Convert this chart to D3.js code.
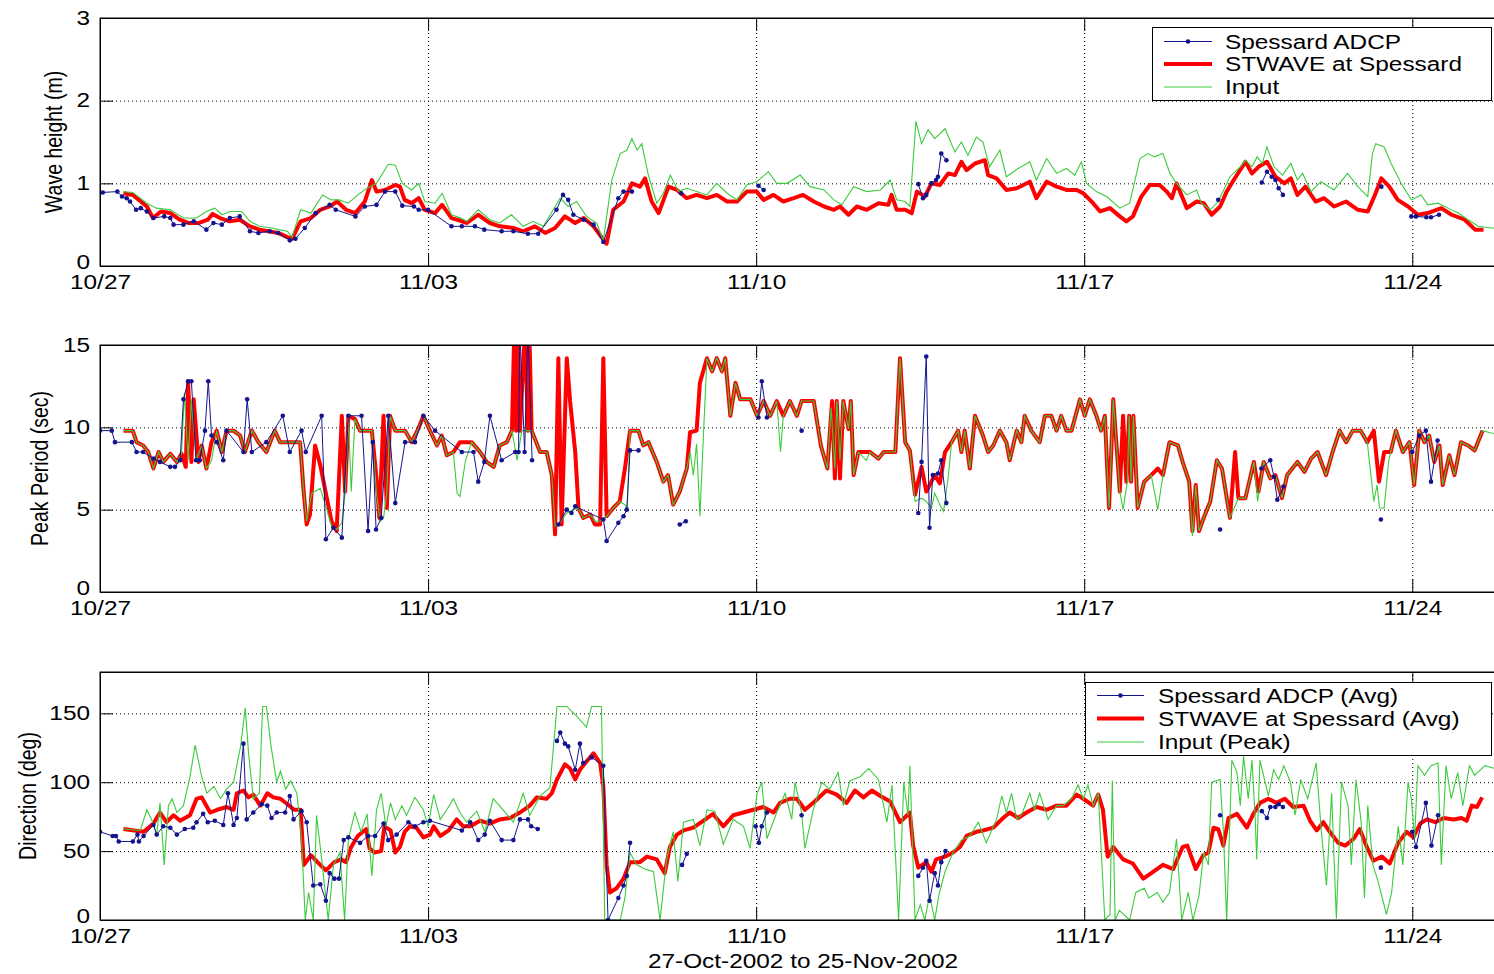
<!DOCTYPE html>
<html>
<head>
<meta charset="utf-8">
<script src="https://cdn.jsdelivr.net/npm/d3@7"></script>
<style>
  body { margin: 0; background: #fff; }
  svg { display: block; }
  text { font-family: Arial, "Liberation Sans", sans-serif; fill: #000; }
</style>
</head>
<body>
<svg id="chart" width="1494" height="974"></svg>
<script>
// ---- time axis (days since 27-Oct-2002 00:00) ----
const tickDays = [0, 7, 14, 21, 28];
const tickLabels = ["10/27", "11/03", "11/10", "11/17", "11/24"];
const xLabel = "27-Oct-2002 to 25-Nov-2002";

// ---- wave height (m): [day, value]; null marks a gap in the record ----
const hsAdcp = [[0.06,0.89],[0.37,0.90],[0.47,0.84],[0.57,0.82],[0.64,0.78],[0.77,0.68],[0.87,0.70],[1.0,0.66],[1.14,0.58],[1.37,0.60],[1.5,0.58],[1.57,0.50],[1.78,0.50],[2.0,0.54],[2.27,0.44],[2.42,0.52],[2.6,0.50],[2.77,0.58],[2.98,0.60],[3.2,0.42],[3.38,0.40],[3.62,0.42],[3.8,0.40],[4.05,0.31],[4.17,0.33],[4.37,0.46],[4.6,0.64],[4.9,0.74],[5.03,0.68],[5.45,0.60],[5.65,0.72],[5.9,0.74],[6.08,0.90],[6.3,0.90],[6.45,0.73],[6.7,0.72],[6.8,0.68],[7.0,0.68],[7.5,0.48],[7.72,0.48],[8.0,0.48],[8.2,0.44],[8.57,0.42],[8.82,0.42],[9.13,0.39],[9.35,0.39],[9.74,0.68],[9.88,0.86],[9.99,0.80],[10.1,0.62],[10.32,0.56],[10.53,0.50],[10.74,0.29],[11.06,0.82],[11.17,0.90],[11.35,0.90],[11.8,null],[12.4,0.88],[12.6,null],[14.05,0.97],[14.16,0.92],[14.3,null],[17.46,0.99],[17.56,0.82],[17.63,0.86],[17.74,1.0],[17.84,1.04],[17.88,1.08],[17.95,1.36],[18.06,1.28],[18.2,null],[23.86,0.80],[24.0,null],[24.79,1.01],[24.9,1.14],[25.0,1.08],[25.08,1.04],[25.15,0.94],[25.24,0.86],[25.5,null],[27.34,0.96],[27.5,null],[27.98,0.60],[28.08,0.60],[28.3,0.59],[28.4,0.59],[28.57,0.62]];

const hsModel = [[0.5,0.88],[0.7,0.86],[1.0,0.72],[1.13,0.58],[1.3,0.66],[1.5,0.64],[1.7,0.56],[1.9,0.52],[2.1,0.52],[2.3,0.56],[2.4,0.63],[2.56,0.58],[2.77,0.54],[2.98,0.56],[3.2,0.48],[3.4,0.44],[3.6,0.42],[3.8,0.40],[4.0,0.35],[4.1,0.33],[4.28,0.54],[4.5,0.58],[4.7,0.68],[4.9,0.72],[5.06,0.78],[5.25,0.68],[5.45,0.64],[5.65,0.78],[5.8,1.04],[5.9,0.90],[6.08,0.92],[6.3,0.98],[6.4,0.96],[6.5,0.80],[6.65,0.76],[6.8,0.82],[6.93,0.68],[7.15,0.64],[7.3,0.74],[7.5,0.58],[7.68,0.55],[7.83,0.52],[8.07,0.62],[8.32,0.52],[8.53,0.48],[8.82,0.46],[9.03,0.42],[9.28,0.48],[9.5,0.40],[9.71,0.46],[9.92,0.60],[10.14,0.52],[10.32,0.58],[10.53,0.48],[10.7,0.35],[10.81,0.27],[10.95,0.68],[11.17,0.78],[11.35,1.0],[11.52,0.96],[11.63,1.06],[11.77,0.78],[11.92,0.64],[12.13,0.96],[12.31,0.92],[12.52,0.82],[12.73,0.86],[12.95,0.82],[13.16,0.86],[13.38,0.78],[13.59,0.78],[13.8,0.90],[14.01,0.90],[14.16,0.80],[14.37,0.86],[14.58,0.78],[14.8,0.82],[15.0,0.86],[15.23,0.78],[15.45,0.72],[15.66,0.68],[15.79,0.72],[15.97,0.62],[16.15,0.72],[16.36,0.68],[16.61,0.76],[16.82,0.74],[16.89,0.86],[17.0,0.68],[17.18,0.68],[17.32,0.64],[17.43,0.90],[17.6,0.84],[17.74,1.0],[17.92,0.98],[18.1,1.12],[18.24,1.10],[18.38,1.26],[18.49,1.16],[18.67,1.24],[18.88,1.28],[18.95,1.10],[19.13,1.06],[19.34,0.92],[19.56,0.94],[19.84,1.02],[19.98,0.82],[20.2,1.02],[20.41,0.96],[20.62,0.92],[20.84,0.92],[20.98,0.88],[21.19,0.76],[21.34,0.66],[21.55,0.70],[21.76,0.60],[21.9,0.54],[22.04,0.60],[22.22,0.84],[22.4,0.98],[22.61,0.98],[22.76,0.90],[22.87,0.82],[22.97,1.0],[23.19,0.70],[23.4,0.78],[23.55,0.76],[23.72,0.62],[23.9,0.72],[24.04,0.90],[24.19,1.04],[24.44,1.26],[24.58,1.12],[24.72,1.20],[24.9,1.26],[25.08,1.08],[25.27,1.0],[25.41,1.06],[25.55,0.86],[25.72,0.96],[25.94,0.78],[26.12,0.82],[26.33,0.72],[26.59,0.78],[26.84,0.68],[27.05,0.66],[27.19,0.84],[27.34,1.06],[27.51,0.96],[27.69,0.80],[27.91,0.72],[28.12,0.62],[28.33,0.64],[28.62,0.70],[28.84,0.62],[29.12,0.56],[29.34,0.44],[29.52,0.44]];

const hsInput = [[0.5,0.90],[0.7,0.89],[1.0,0.76],[1.2,0.70],[1.5,0.68],[1.78,0.58],[2.06,0.58],[2.27,0.66],[2.45,0.70],[2.6,0.62],[2.77,0.66],[3.02,0.66],[3.2,0.54],[3.4,0.48],[3.68,0.46],[3.8,0.44],[4.0,0.42],[4.1,0.35],[4.28,0.68],[4.5,0.64],[4.75,0.86],[4.93,0.80],[5.1,0.80],[5.3,0.76],[5.5,0.86],[5.7,0.94],[5.9,1.0],[6.15,1.23],[6.3,1.22],[6.45,1.0],[6.65,0.92],[6.8,1.0],[6.93,0.78],[7.15,0.76],[7.3,0.88],[7.5,0.62],[7.7,0.58],[7.83,0.54],[8.07,0.68],[8.32,0.56],[8.53,0.52],[8.78,0.62],[9.03,0.48],[9.24,0.54],[9.46,0.48],[9.67,0.68],[9.82,0.82],[9.99,0.72],[10.17,0.78],[10.38,0.60],[10.6,0.52],[10.74,0.31],[10.92,1.04],[11.1,1.36],[11.24,1.40],[11.35,1.54],[11.46,1.40],[11.56,1.48],[11.7,1.10],[11.88,0.76],[12.02,0.88],[12.17,1.10],[12.34,0.90],[12.52,0.94],[12.73,0.90],[12.95,0.86],[13.16,1.0],[13.38,0.88],[13.59,0.80],[13.8,0.98],[14.01,1.02],[14.26,1.14],[14.44,1.0],[14.66,1.0],[14.94,1.10],[15.15,0.96],[15.45,0.92],[15.66,0.80],[15.83,0.74],[16.08,0.96],[16.36,0.90],[16.65,0.92],[16.86,1.04],[17.0,0.80],[17.18,0.78],[17.28,0.72],[17.41,1.75],[17.53,1.48],[17.67,1.65],[17.81,1.54],[18.03,1.66],[18.24,1.38],[18.38,1.50],[18.52,1.34],[18.7,1.56],[18.84,1.50],[18.98,1.20],[19.2,1.40],[19.34,1.08],[19.59,1.18],[19.84,1.26],[19.98,1.04],[20.2,1.30],[20.41,1.12],[20.62,1.18],[20.8,1.10],[20.94,1.26],[21.05,1.0],[21.26,0.90],[21.48,0.84],[21.76,0.70],[21.97,0.76],[22.19,1.30],[22.36,1.36],[22.5,1.32],[22.68,1.36],[22.83,1.12],[22.97,1.0],[23.19,0.86],[23.4,0.92],[23.5,0.76],[23.69,0.68],[23.86,0.78],[24.11,1.08],[24.33,1.20],[24.44,1.28],[24.58,1.20],[24.69,1.32],[24.8,1.24],[24.9,1.44],[25.05,1.20],[25.23,1.10],[25.41,1.24],[25.55,1.04],[25.66,1.12],[25.84,0.90],[26.05,1.02],[26.33,0.92],[26.62,1.12],[26.84,0.96],[27.05,0.84],[27.15,1.36],[27.22,1.48],[27.4,1.44],[27.55,1.24],[27.76,1.0],[27.98,0.80],[28.19,0.86],[28.33,0.74],[28.55,0.76],[28.76,0.70],[28.98,0.64],[29.19,0.56],[29.41,0.48],[29.69,0.46],[30.0,0.46]];

// ---- peak period (sec) ----
const tpAdcp = [[0.0,9.8],[0.25,9.8],[0.32,9.1],[0.68,9.1],[0.78,8.5],[0.92,8.5],[1.14,8.1],[1.28,7.9],[1.5,7.6],[1.6,7.6],[1.71,8.0],[1.78,11.7],[1.88,12.8],[1.95,12.8],[2.05,8.0],[2.13,8.0],[2.24,9.8],[2.31,12.8],[2.38,9.5],[2.49,9.1],[2.63,8.0],[2.7,9.8],[3.06,8.5],[3.14,11.7],[3.24,8.5],[3.55,9.1],[3.9,10.7],[4.05,8.5],[4.3,9.8],[4.39,8.5],[4.73,10.7],[4.82,3.2],[4.98,3.9],[5.16,3.3],[5.3,10.7],[5.58,10.7],[5.72,3.7],[5.82,9.1],[5.89,3.8],[6.0,4.5],[6.15,10.7],[6.3,5.4],[6.51,9.1],[6.72,9.1],[6.9,10.7],[7.15,9.8],[7.72,8.5],[7.97,8.5],[8.07,6.7],[8.2,7.9],[8.32,10.7],[8.57,8.0],[8.86,8.5],[8.93,8.5],[8.96,16],[9.06,8.5],[9.13,16],[9.22,8.0],[9.5,null],[9.78,4.1],[9.96,5.0],[10.06,4.8],[10.14,5.2],[10.74,4.4],[10.81,3.1],[11.06,4.2],[11.17,4.6],[11.24,5.0],[11.31,8.6],[11.49,8.6],[11.8,null],[12.37,4.1],[12.5,4.3],[12.8,null],[14.05,10.6],[14.12,12.8],[14.23,10.6],[14.5,null],[14.97,9.8],[15.2,null],[17.46,4.8],[17.53,7.9],[17.63,14.3],[17.7,3.9],[17.77,7.1],[17.88,7.2],[17.95,8.0],[18.06,5.4],[18.3,null],[23.9,3.8],[24.1,null],[24.78,7.5],[24.97,8.0],[25.05,7.0],[25.12,5.6],[25.25,6.4],[25.5,null],[27.33,4.4],[27.6,null],[28.0,8.5],[28.15,9.5],[28.29,9.8],[28.4,6.7],[28.54,9.2]];

const tpModel = [[0.5,9.8],[0.7,9.8],[0.78,9.1],[0.92,8.9],[1.03,8.5],[1.14,7.5],[1.25,8.5],[1.35,7.9],[1.5,8.4],[1.64,7.9],[1.74,8.4],[1.83,7.6],[1.88,12.8],[1.95,7.9],[2.0,11.7],[2.1,7.9],[2.17,8.9],[2.27,7.5],[2.38,9.1],[2.49,9.8],[2.6,8.5],[2.7,9.8],[2.85,9.8],[2.99,9.5],[3.09,8.5],[3.24,9.8],[3.38,9.1],[3.55,8.5],[3.73,9.8],[3.84,9.1],[4.05,9.1],[4.27,9.1],[4.34,6.3],[4.41,4.1],[4.48,4.7],[4.59,8.9],[4.7,7.7],[4.84,5.7],[4.94,4.3],[5.05,3.7],[5.16,10.7],[5.23,6.1],[5.3,10.7],[5.44,10.5],[5.55,9.8],[5.69,9.8],[5.8,9.8],[5.9,6.9],[5.96,4.5],[6.05,10.7],[6.12,5.1],[6.19,10.7],[6.3,9.8],[6.4,9.8],[6.51,9.8],[6.65,9.1],[6.79,9.9],[6.9,10.7],[7.04,9.8],[7.19,8.9],[7.29,9.5],[7.4,8.3],[7.54,8.5],[7.68,9.1],[7.93,9.1],[8.11,8.5],[8.25,7.9],[8.4,7.6],[8.53,8.9],[8.68,9.1],[8.79,9.8],[8.84,16],[8.88,9.8],[8.92,16],[8.96,9.8],[9.07,16],[9.13,9.8],[9.16,16],[9.21,9.8],[9.39,8.5],[9.53,8.5],[9.64,7.1],[9.71,3.5],[9.78,14.2],[9.85,4.1],[9.96,14.2],[10.03,11.6],[10.14,8.5],[10.21,5.1],[10.31,4.5],[10.46,4.7],[10.56,4.1],[10.67,4.1],[10.74,14.2],[10.81,4.6],[10.95,5.1],[11.09,5.5],[11.2,7.5],[11.31,9.8],[11.49,9.8],[11.59,8.9],[11.7,9.1],[11.88,7.9],[12.02,6.7],[12.12,7.1],[12.23,5.3],[12.37,6.1],[12.52,7.5],[12.59,9.7],[12.73,9.8],[12.8,12.7],[12.95,14.2],[13.06,13.4],[13.16,14.2],[13.27,13.4],[13.34,14.2],[13.45,10.7],[13.56,12.7],[13.66,11.7],[13.88,11.7],[14.02,10.7],[14.16,11.6],[14.3,10.7],[14.44,11.6],[14.58,10.7],[14.72,11.6],[14.87,10.7],[14.97,11.6],[15.23,11.6],[15.38,8.9],[15.52,7.5],[15.62,11.6],[15.68,6.9],[15.72,11.6],[15.79,6.9],[15.86,11.6],[15.97,9.9],[16.02,11.6],[16.08,7.1],[16.18,8.5],[16.43,8.5],[16.61,8.1],[16.72,8.5],[16.97,8.5],[17.07,14.2],[17.18,9.1],[17.28,8.6],[17.39,5.9],[17.53,7.6],[17.63,6.1],[17.74,6.7],[17.81,7.1],[17.92,6.6],[18.03,8.5],[18.17,9.1],[18.31,9.8],[18.38,8.5],[18.45,9.8],[18.56,7.5],[18.67,10.7],[18.84,9.5],[18.95,8.5],[19.06,8.9],[19.2,9.8],[19.34,9.1],[19.41,8.0],[19.56,9.8],[19.66,9.1],[19.73,10.7],[19.87,9.8],[20.05,9.1],[20.16,10.7],[20.3,10.7],[20.41,9.8],[20.51,10.7],[20.62,9.8],[20.73,9.8],[20.91,11.7],[21.01,10.7],[21.12,11.7],[21.26,10.7],[21.36,9.8],[21.44,10.7],[21.53,5.1],[21.62,11.7],[21.76,6.1],[21.83,10.7],[21.9,6.7],[21.96,10.7],[22.0,6.7],[22.05,10.7],[22.14,5.1],[22.28,6.7],[22.43,7.1],[22.57,7.5],[22.68,7.1],[22.82,9.1],[23.0,8.9],[23.1,7.9],[23.24,6.7],[23.31,3.7],[23.38,6.5],[23.45,3.7],[23.55,4.5],[23.69,5.5],[23.83,8.0],[23.94,7.5],[24.11,4.5],[24.22,8.5],[24.29,5.7],[24.44,5.7],[24.62,7.9],[24.72,6.1],[24.83,7.9],[24.97,6.9],[25.08,7.1],[25.22,5.7],[25.33,7.1],[25.44,7.5],[25.55,7.9],[25.7,7.3],[25.84,8.1],[25.98,8.5],[26.16,7.1],[26.3,8.5],[26.45,9.8],[26.59,9.1],[26.73,9.8],[26.9,9.8],[27.04,9.1],[27.18,9.8],[27.29,6.7],[27.4,8.5],[27.54,8.5],[27.65,9.8],[27.8,8.5],[27.94,9.1],[28.04,6.5],[28.15,9.8],[28.26,9.1],[28.36,9.5],[28.47,7.9],[28.58,8.9],[28.65,6.5],[28.79,8.3],[28.9,7.1],[29.04,9.1],[29.19,8.9],[29.33,8.6],[29.4,9.1],[29.5,9.8]];

const tpInput = [[0.5,9.8],[0.7,9.8],[0.78,9.1],[0.92,8.9],[1.03,8.5],[1.14,7.5],[1.25,8.5],[1.35,7.9],[1.5,8.4],[1.64,7.9],[1.74,8.4],[1.8,12.1],[1.88,8.0],[1.95,11.7],[2.05,8.0],[2.17,8.9],[2.27,7.5],[2.38,8.0],[2.49,9.8],[2.6,8.5],[2.7,9.8],[2.85,9.8],[2.99,9.5],[3.09,8.5],[3.24,9.8],[3.38,9.1],[3.55,8.5],[3.73,9.8],[3.84,9.1],[4.05,9.1],[4.27,9.1],[4.34,6.3],[4.41,4.3],[4.52,6.0],[4.7,6.3],[4.84,5.0],[4.94,4.0],[5.05,3.8],[5.16,4.2],[5.23,6.0],[5.3,10.7],[5.36,6.1],[5.44,10.5],[5.55,9.8],[5.69,9.8],[5.8,9.8],[5.9,6.0],[5.98,4.3],[6.05,4.5],[6.12,6.0],[6.19,10.7],[6.3,9.8],[6.4,9.8],[6.51,9.8],[6.65,9.1],[6.79,9.9],[6.9,10.7],[7.04,9.8],[7.19,8.9],[7.29,9.5],[7.4,8.3],[7.54,8.5],[7.62,6.0],[7.68,5.8],[7.8,8.0],[7.93,9.1],[8.11,8.5],[8.25,7.9],[8.4,7.6],[8.53,8.9],[8.68,9.1],[8.79,9.8],[8.9,8.0],[9.0,9.8],[9.13,9.8],[9.21,9.8],[9.39,8.5],[9.53,8.5],[9.64,7.1],[9.71,4.0],[9.8,4.2],[9.96,4.8],[10.1,5.0],[10.21,5.1],[10.31,4.5],[10.46,4.7],[10.56,4.3],[10.67,4.3],[10.81,4.6],[10.95,5.1],[11.09,5.5],[11.2,5.3],[11.25,5.1],[11.31,9.8],[11.49,9.8],[11.59,8.9],[11.7,9.1],[11.88,7.9],[12.02,6.7],[12.12,7.1],[12.23,5.3],[12.37,6.1],[12.52,7.5],[12.59,8.5],[12.66,7.1],[12.73,9.0],[12.8,4.6],[12.88,9.8],[12.95,14.2],[13.06,13.4],[13.16,14.2],[13.27,13.4],[13.34,14.2],[13.45,10.7],[13.56,12.7],[13.66,11.7],[13.88,11.7],[14.02,10.7],[14.16,11.6],[14.3,10.7],[14.44,11.6],[14.52,8.5],[14.58,10.7],[14.72,11.6],[14.87,10.7],[14.97,11.6],[15.23,11.6],[15.38,8.9],[15.52,7.5],[15.6,11.2],[15.68,7.5],[15.72,11.6],[15.79,8.0],[15.86,11.6],[15.97,9.9],[16.02,11.6],[16.08,7.1],[16.18,8.5],[16.35,8.0],[16.43,8.5],[16.61,8.1],[16.72,8.5],[16.97,8.5],[17.07,14.2],[17.18,9.1],[17.28,8.6],[17.39,5.5],[17.53,5.7],[17.63,5.5],[17.74,5.1],[17.81,6.0],[17.92,5.3],[18.0,4.9],[18.1,7.0],[18.17,9.1],[18.31,9.8],[18.38,8.5],[18.45,9.8],[18.56,7.5],[18.67,10.7],[18.84,9.5],[18.95,8.5],[19.06,8.9],[19.2,9.8],[19.34,9.1],[19.41,8.0],[19.56,9.8],[19.66,9.1],[19.73,10.7],[19.87,9.8],[20.05,9.1],[20.16,10.7],[20.3,10.7],[20.41,9.8],[20.51,10.7],[20.62,9.8],[20.73,9.8],[20.91,11.7],[21.01,10.7],[21.12,11.7],[21.26,10.7],[21.36,9.8],[21.44,10.7],[21.53,5.1],[21.62,11.7],[21.76,6.1],[21.83,5.0],[21.92,6.7],[21.96,10.7],[22.0,6.7],[22.05,10.7],[22.14,5.1],[22.28,6.7],[22.43,7.1],[22.57,5.0],[22.68,7.1],[22.82,9.1],[23.0,8.9],[23.1,7.9],[23.24,6.7],[23.31,3.4],[23.38,6.5],[23.45,3.7],[23.55,4.5],[23.69,5.5],[23.83,8.0],[23.94,7.5],[24.11,4.5],[24.2,5.1],[24.29,5.7],[24.44,5.7],[24.62,7.9],[24.7,5.5],[24.83,7.9],[24.97,6.9],[25.08,7.1],[25.22,5.7],[25.33,7.1],[25.44,7.5],[25.55,7.9],[25.7,7.3],[25.84,8.1],[25.98,8.5],[26.16,7.1],[26.3,8.5],[26.45,9.8],[26.59,9.1],[26.73,9.8],[26.9,9.8],[27.04,9.1],[27.18,5.5],[27.25,6.5],[27.3,5.1],[27.4,5.1],[27.5,8.0],[27.54,8.5],[27.65,9.8],[27.8,8.5],[27.94,9.1],[28.04,6.5],[28.15,9.8],[28.26,9.1],[28.36,9.5],[28.47,7.9],[28.58,8.9],[28.65,6.5],[28.79,8.3],[28.9,7.1],[29.04,9.1],[29.19,8.9],[29.33,8.6],[29.4,9.1],[29.5,9.8],[29.76,9.6],[30.0,9.6]];

// ---- direction (deg) ----
const dirAdcp = [[0.0,64],[0.27,61],[0.34,61],[0.4,57],[0.7,57],[0.8,62],[0.83,57],[0.93,61],[1.14,69],[1.21,62],[1.35,68],[1.5,67],[1.64,62],[1.81,66],[1.99,67],[2.06,71],[2.2,77],[2.3,71],[2.45,72],[2.63,69],[2.73,92],[2.85,69],[2.92,74],[3.06,128],[3.13,73],[3.27,78],[3.45,84],[3.57,83],[3.66,74],[3.77,78],[3.95,78],[4.05,90],[4.13,73],[4.3,79],[4.41,71],[4.55,25],[4.7,26],[4.82,14],[4.9,34],[5.0,30],[5.1,30],[5.2,58],[5.3,60],[5.55,56],[5.72,61],[5.87,61],[6.05,70],[6.15,58],[6.33,62],[6.58,71],[6.72,68],[6.9,71],[7.04,72],[7.72,65],[7.9,71],[8.07,58],[8.21,62],[8.32,72],[8.57,58],[8.82,58],[8.96,73],[9.13,73],[9.2,68],[9.34,66],[9.5,null],[9.75,130],[9.82,136],[9.92,128],[9.99,126],[10.14,109],[10.24,128],[10.31,114],[10.49,118],[10.74,112],[10.84,0],[11.06,16],[11.17,25],[11.24,32],[11.31,56],[11.6,null],[12.42,40],[12.52,48],[12.8,null],[13.99,68],[14.06,56],[14.12,68],[14.23,78],[14.5,null],[14.97,76],[15.2,null],[17.46,32],[17.56,38],[17.63,43],[17.7,14],[17.81,34],[17.88,25],[17.95,42],[18.04,50],[18.3,null],[23.9,76],[24.1,null],[24.79,79],[24.9,74],[24.97,82],[25.08,82],[25.15,84],[25.24,82],[25.5,null],[27.33,38],[27.6,null],[28.0,64],[28.08,53],[28.29,85],[28.41,54],[28.55,76]];

const dirModel = [[0.5,66],[0.73,65],[0.93,64],[1.14,70],[1.28,78],[1.42,71],[1.57,76],[1.71,72],[1.92,76],[2.06,88],[2.17,89],[2.35,78],[2.5,80],[2.7,82],[2.85,80],[2.92,92],[3.06,94],[3.17,89],[3.27,91],[3.42,83],[3.57,92],[3.7,89],[3.85,88],[4.0,84],[4.14,80],[4.28,80],[4.35,40],[4.5,47],[4.64,42],[4.82,36],[5.0,42],[5.14,44],[5.25,42],[5.36,53],[5.5,61],[5.68,66],[5.75,52],[5.85,49],[6.0,50],[6.07,68],[6.2,65],[6.3,49],[6.4,53],[6.5,64],[6.61,68],[6.75,67],[6.9,60],[7.04,62],[7.12,68],[7.26,61],[7.44,65],[7.61,73],[7.75,68],[7.9,68],[8.11,72],[8.32,70],[8.53,73],[8.75,74],[8.96,78],[9.17,83],[9.32,89],[9.53,88],[9.64,92],[9.75,102],[9.92,113],[10.03,110],[10.14,102],[10.24,109],[10.38,115],[10.53,121],[10.67,114],[10.74,97],[10.81,40],[10.88,20],[11.02,23],[11.17,30],[11.31,42],[11.52,42],[11.67,46],[11.88,44],[12.05,34],[12.16,53],[12.31,62],[12.45,65],[12.66,67],[12.87,72],[13.08,77],[13.3,68],[13.51,76],[13.73,78],[13.94,80],[14.15,82],[14.37,78],[14.51,85],[14.72,88],[14.87,88],[15.04,80],[15.25,86],[15.5,94],[15.72,91],[15.93,85],[16.11,94],[16.29,89],[16.47,94],[16.65,90],[16.86,86],[17.07,71],[17.28,78],[17.35,54],[17.46,38],[17.63,42],[17.74,35],[17.84,44],[18.03,46],[18.2,49],[18.35,53],[18.49,61],[18.7,64],[18.84,65],[19.06,67],[19.27,74],[19.41,78],[19.59,74],[19.77,78],[19.98,82],[20.2,80],[20.41,83],[20.62,83],[20.84,91],[20.98,88],[21.19,83],[21.3,91],[21.4,80],[21.5,46],[21.62,53],[21.83,44],[22.04,41],[22.26,30],[22.47,35],[22.68,40],[22.9,37],[23.1,53],[23.2,54],[23.38,37],[23.54,47],[23.65,49],[23.76,67],[23.86,66],[23.97,54],[24.08,74],[24.26,77],[24.47,67],[24.61,77],[24.75,85],[24.93,88],[25.1,85],[25.28,88],[25.46,82],[25.68,83],[25.82,72],[25.96,65],[26.1,71],[26.24,64],[26.42,56],[26.57,54],[26.75,59],[26.88,66],[27.03,53],[27.17,43],[27.35,46],[27.52,41],[27.7,56],[27.88,64],[28.02,60],[28.17,70],[28.31,73],[28.49,71],[28.67,74],[28.88,73],[29.05,74],[29.16,72],[29.27,83],[29.38,82],[29.49,89]];

const dirInput = [[0.5,66],[0.86,65],[1.0,80],[1.1,73],[1.21,62],[1.28,85],[1.37,40],[1.46,83],[1.54,88],[1.64,78],[1.78,83],[1.92,104],[2.03,127],[2.17,104],[2.28,92],[2.43,97],[2.57,88],[2.7,95],[2.85,100],[3.0,126],[3.1,154],[3.17,121],[3.27,88],[3.4,92],[3.47,155],[3.55,155],[3.65,126],[3.77,100],[3.85,108],[3.96,95],[4.07,101],[4.2,92],[4.3,59],[4.38,0],[4.45,20],[4.55,0],[4.62,76],[4.73,44],[4.87,0],[4.98,40],[5.12,49],[5.22,0],[5.3,59],[5.44,78],[5.57,64],[5.7,77],[5.8,32],[5.9,80],[6.0,92],[6.1,68],[6.2,85],[6.3,73],[6.44,83],[6.54,76],[6.72,89],[6.9,80],[7.0,68],[7.12,91],[7.26,73],[7.4,80],[7.54,88],[7.68,78],[7.82,71],[8.04,79],[8.21,64],[8.39,88],[8.6,80],[8.82,71],[9.03,92],[9.17,76],[9.39,90],[9.6,96],[9.75,155],[9.96,155],[10.17,148],[10.38,140],[10.49,155],[10.7,155],[10.77,0],[11.1,0],[11.2,16],[11.31,49],[11.45,40],[11.63,37],[11.81,35],[11.95,0],[12.09,44],[12.23,64],[12.33,28],[12.45,71],[12.66,73],[12.8,54],[12.95,80],[13.12,79],[13.3,55],[13.51,73],[13.73,68],[13.87,52],[14.02,92],[14.12,100],[14.23,59],[14.44,78],[14.62,92],[14.76,73],[14.83,100],[14.97,78],[15.04,52],[15.22,80],[15.4,100],[15.57,95],[15.75,107],[15.86,83],[16.0,101],[16.22,104],[16.4,110],[16.61,102],[16.79,71],[16.9,98],[17.04,0],[17.15,100],[17.24,76],[17.28,112],[17.39,0],[17.5,11],[17.6,0],[17.7,18],[17.81,0],[17.9,18],[18.03,35],[18.2,49],[18.38,58],[18.56,61],[18.74,71],[18.91,56],[19.13,73],[19.24,90],[19.34,78],[19.45,92],[19.56,73],[19.66,76],[19.84,92],[19.94,80],[20.05,92],[20.23,73],[20.41,83],[20.55,83],[20.73,88],[20.87,98],[20.98,88],[21.08,98],[21.19,83],[21.3,92],[21.44,0],[21.55,4],[21.6,101],[21.66,0],[21.75,7],[21.97,0],[22.1,20],[22.28,23],[22.38,16],[22.56,20],[22.68,13],[22.82,20],[22.97,59],[23.08,0],[23.22,20],[23.32,0],[23.45,18],[23.55,49],[23.65,40],[23.72,100],[23.9,102],[23.97,64],[24.04,0],[24.15,116],[24.26,107],[24.33,83],[24.4,119],[24.5,88],[24.58,116],[24.65,73],[24.68,44],[24.75,116],[24.93,90],[25.04,109],[25.15,102],[25.26,112],[25.4,100],[25.5,76],[25.62,102],[25.77,88],[25.95,114],[26.06,64],[26.17,25],[26.28,92],[26.38,1],[26.49,100],[26.63,83],[26.7,40],[26.8,102],[26.91,71],[26.98,16],[27.05,83],[27.16,40],[27.27,28],[27.45,4],[27.56,20],[27.7,68],[27.8,40],[27.91,100],[27.98,88],[28.05,59],[28.12,112],[28.26,105],[28.4,112],[28.55,114],[28.62,40],[28.72,112],[28.83,88],[28.97,107],[29.08,83],[29.22,112],[29.33,105],[29.55,112],[29.76,110],[30.0,110]];

// ---- legend entries ----
const legendTop = ["Spessard ADCP", "STWAVE at Spessard", "Input"];
const legendBottom = ["Spessard ADCP (Avg)", "STWAVE at Spessard (Avg)", "Input (Peak)"];

// ---- styling ----
const C_ADCP = "#14148f", C_MODEL = "#ff0000", C_INPUT = "#3ccb3c";
const FONT = 19.5;   // px
const SX = 1.25;     // horizontal stretch of the lettering

const svg = d3.select("#chart");
const x = d3.scaleLinear().domain([0, 30]).range([100, 1506]);

const panels = [
  { top: 18,  bottom: 266, domain: [0, 3],   ticks: [0, 1, 2, 3],       label: "Wave height (m)",  labelX: 62, adcp: hsAdcp,  model: hsModel,  input: hsInput,  legend: legendTop,
    lg: { x: 1152.5, y: 27.5, w: 339, h: 73, lineX0: 1164, lineX1: 1212, textX: 1225, rows: [41.5, 64, 87] } },
  { top: 345, bottom: 592, domain: [0, 15],  ticks: [0, 5, 10, 15],     label: "Peak Period (sec)", labelX: 48, adcp: tpAdcp,  model: tpModel,  input: tpInput,  legend: null },
  { top: 672, bottom: 920, domain: [0, 180], ticks: [0, 50, 100, 150],  label: "Direction (deg)",  labelX: 36, adcp: dirAdcp, model: dirModel, input: dirInput, legend: legendBottom,
    lg: { x: 1085.5, y: 682.5, w: 406, h: 73, lineX0: 1097, lineX1: 1144, textX: 1158, rows: [695.5, 718.5, 742] } }
];

function stretchAxisText(g) {
  g.selectAll(".tick text").each(function () {
    const t = d3.select(this);
    const tx = +t.attr("x") || 0;
    t.attr("x", tx / SX).attr("transform", `scale(${SX},1)`);
  });
}

function placeText(parent, str, px, py, anchor, rotate) {
  return parent.append("text")
    .attr("transform", `translate(${px},${py}) scale(${SX},1)` + (rotate ? ` rotate(${rotate})` : ""))
    .attr("text-anchor", anchor)
    .attr("font-size", FONT)
    .text(str);
}

panels.forEach((p, idx) => {
  const y = d3.scaleLinear().domain(p.domain).range([p.bottom, p.top]);
  const g = svg.append("g");
  const h = p.bottom - p.top;

  const clipId = "clip" + idx;
  svg.append("clipPath").attr("id", clipId)
    .append("rect").attr("x", x(0)).attr("y", p.top).attr("width", x(30) - x(0)).attr("height", h);

  // dotted grid
  const grid = g.append("g").attr("class", "grid");
  grid.append("g").attr("transform", `translate(0,${p.bottom})`)
    .call(d3.axisBottom(x).tickValues(tickDays.filter(d => d > 0)).tickSize(-h).tickFormat(""))
    .call(s => s.select(".domain").remove());
  grid.append("g").attr("transform", `translate(${x(0)},0)`)
    .call(d3.axisLeft(y).tickValues(p.ticks.filter(v => v > p.domain[0] && v < p.domain[1])).tickSize(-(x(30) - x(0))).tickFormat(""))
    .call(s => s.select(".domain").remove());
  grid.selectAll("line").attr("stroke", "#000").attr("stroke-width", 1).attr("stroke-dasharray", "1,3");

  // series
  const line = d3.line().defined(d => d[1] != null).x(d => x(d[0])).y(d => y(d[1]));
  const plot = g.append("g").attr("clip-path", `url(#${clipId})`);
  plot.append("path").datum(p.model).attr("d", line)
    .attr("fill", "none").attr("stroke", C_MODEL).attr("stroke-width", 4).attr("stroke-linejoin", "round");
  plot.append("path").datum(p.input).attr("d", line)
    .attr("fill", "none").attr("stroke", C_INPUT).attr("stroke-width", 1.1);
  plot.append("path").datum(p.adcp).attr("d", line)
    .attr("fill", "none").attr("stroke", C_ADCP).attr("stroke-width", 1);
  plot.selectAll("circle.adcp").data(p.adcp.filter(d => d[1] != null)).join("circle")
    .attr("class", "adcp").attr("cx", d => x(d[0])).attr("cy", d => y(d[1])).attr("r", 2.3).attr("fill", C_ADCP);

  // frame
  g.append("rect").attr("x", x(0)).attr("y", p.top).attr("width", x(30) - x(0)).attr("height", h)
    .attr("fill", "none").attr("stroke", "#000").attr("stroke-width", 1);

  // axes: ticks point inward
  const bottomAxis = g.append("g").attr("transform", `translate(0,${p.bottom})`)
    .call(d3.axisBottom(x).tickValues(tickDays).tickFormat((d, i) => tickLabels[i]).tickSizeInner(-13).tickSizeOuter(0).tickPadding(9));
  const topAxis = g.append("g").attr("transform", `translate(0,${p.top})`)
    .call(d3.axisTop(x).tickValues(tickDays).tickFormat("").tickSizeInner(-13).tickSizeOuter(0));
  const leftAxis = g.append("g").attr("transform", `translate(${x(0)},0)`)
    .call(d3.axisLeft(y).tickValues(p.ticks).tickFormat(d3.format("d")).tickSizeInner(-13).tickSizeOuter(0).tickPadding(10));
  [bottomAxis, topAxis, leftAxis].forEach(a => {
    a.attr("font-family", null).attr("font-size", FONT).attr("color", "#000");
    a.select(".domain").attr("stroke", "#000");
    stretchAxisText(a);
  });
  // the lowest y label sits just above the date labels
  leftAxis.selectAll(".tick text").filter(d => d === p.domain[0]).attr("dy", "0.12em");

  // y label
  placeText(g, p.label, p.labelX, (p.top + p.bottom) / 2, "middle", -90);

  // legend
  if (p.legend) {
    const L = p.lg;
    const lg = g.append("g");
    lg.append("rect").attr("x", L.x).attr("y", L.y).attr("width", L.w).attr("height", L.h)
      .attr("fill", "#fff").attr("stroke", "#000").attr("stroke-width", 1);
    const styles = [
      { c: C_ADCP, w: 1, dot: true },
      { c: C_MODEL, w: 4, dot: false },
      { c: C_INPUT, w: 1.1, dot: false }
    ];
    p.legend.forEach((name, i) => {
      const ry = L.rows[i];
      lg.append("line").attr("x1", L.lineX0).attr("x2", L.lineX1).attr("y1", ry).attr("y2", ry)
        .attr("stroke", styles[i].c).attr("stroke-width", styles[i].w);
      if (styles[i].dot) {
        lg.append("circle").attr("cx", (L.lineX0 + L.lineX1) / 2).attr("cy", ry).attr("r", 2.3).attr("fill", styles[i].c);
      }
      placeText(lg, name, L.textX, ry + 7, "start");
    });
  }
});

// time-span caption under the bottom panel
placeText(svg, xLabel, (x(0) + x(30)) / 2, 968, "middle");
</script>
</body>
</html>
